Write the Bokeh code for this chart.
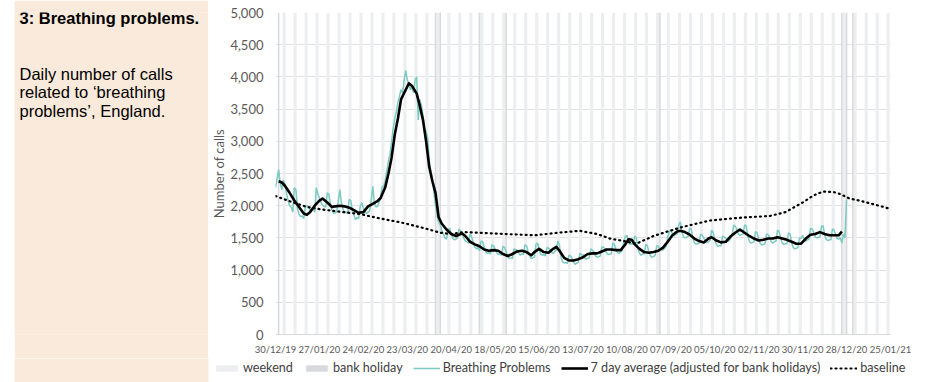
import pandas as pd
from bokeh.plotting import figure
from bokeh.models import (Range1d, FixedTicker, NumeralTickFormatter, Legend,
                          LegendItem, Label, ColumnDataSource, Spacer)
from bokeh.layouts import row, column
from bokeh.embed import file_html
from bokeh.resources import INLINE

# ---------------- data ----------------
START = pd.Timestamp("2019-12-30")

x_tick_labels = ["30/12/19", "27/01/20", "24/02/20", "23/03/20", "20/04/20",
                 "18/05/20", "15/06/20", "13/07/20", "10/08/20", "07/09/20",
                 "05/10/20", "02/11/20", "30/11/20", "28/12/20", "25/01/21"]
y_ticks = [0, 500, 1000, 1500, 2000, 2500, 3000, 3500, 4000, 4500, 5000]

bank_holidays = ["2020-01-01", "2020-04-10", "2020-04-13", "2020-05-08",
                 "2020-05-25", "2020-08-31", "2020-12-25", "2020-12-28",
                 "2021-01-01"]

# daily calls, one value per day from 30/12/2019 (rows = Mon..Sun weeks)
breathing_problems = [
    2280, 2420, 2560, 2350, 2250, 2400, 2330,
    2200, 2080, 2000, 1980, 1900, 2280, 2250,
    1950, 1870, 1830, 1840, 1800, 1980, 2000,
    1990, 1940, 1930, 1960, 1900, 2280, 2180,
    2120, 2050, 2010, 1990, 1980, 2200, 2180,
    2020, 1930, 1880, 1890, 1900, 2060, 2250,
    2050, 1950, 1890, 1900, 1880, 2100, 2080,
    1920, 1850, 1780, 1820, 1800, 1990, 2050,
    1960, 1910, 1880, 1900, 1920, 2080, 2300,
    2050, 1980, 1990, 2050, 2120, 2300, 2300,
    2400, 2550, 2700, 2800, 3000, 3200, 3350,
    3450, 3600, 3700, 3800, 3750, 3950, 4100,
    3950, 3900, 3800, 3850, 3750, 3950, 4000,
    3330, 3650, 3550, 3400, 3200, 3150, 3050,
    2700, 2550, 2400, 2200, 2000, 1850, 1750,
    1700, 1620, 1560, 1500, 1480, 1620, 1650,
    1560, 1500, 1470, 1480, 1500, 1640, 1600,
    1580, 1500, 1450, 1440, 1420, 1560, 1520,
    1430, 1360, 1330, 1350, 1300, 1450, 1440,
    1360, 1290, 1260, 1270, 1250, 1390, 1380,
    1330, 1270, 1240, 1250, 1230, 1370, 1350,
    1290, 1210, 1180, 1190, 1180, 1330, 1320,
    1310, 1260, 1230, 1250, 1240, 1390, 1380,
    1290, 1220, 1180, 1190, 1200, 1400, 1420,
    1320, 1250, 1230, 1240, 1220, 1350, 1340,
    1320, 1280, 1260, 1290, 1310, 1450, 1380,
    1200, 1130, 1110, 1120, 1100, 1230, 1220,
    1180, 1120, 1090, 1110, 1120, 1260, 1240,
    1240, 1190, 1170, 1180, 1190, 1330, 1310,
    1280, 1220, 1200, 1210, 1220, 1360, 1360,
    1330, 1270, 1240, 1250, 1250, 1420, 1400,
    1320, 1270, 1260, 1280, 1300, 1450, 1520,
    1540, 1450, 1400, 1410, 1400, 1530, 1500,
    1330, 1260, 1230, 1250, 1250, 1400, 1380,
    1280, 1220, 1200, 1210, 1230, 1380, 1370,
    1320, 1320, 1310, 1340, 1370, 1520, 1600,
    1620, 1560, 1530, 1560, 1560, 1700, 1750,
    1600, 1520, 1500, 1510, 1520, 1650, 1640,
    1500, 1430, 1400, 1410, 1420, 1560, 1540,
    1500, 1440, 1430, 1440, 1460, 1620, 1580,
    1460, 1400, 1370, 1380, 1380, 1530, 1510,
    1500, 1450, 1450, 1490, 1530, 1700, 1680,
    1640, 1560, 1540, 1550, 1560, 1700, 1690,
    1530, 1450, 1420, 1430, 1440, 1600, 1580,
    1480, 1410, 1390, 1400, 1410, 1560, 1550,
    1510, 1440, 1420, 1440, 1450, 1620, 1600,
    1490, 1420, 1400, 1410, 1410, 1580, 1560,
    1420, 1350, 1330, 1340, 1350, 1500, 1490,
    1540, 1470, 1450, 1470, 1480, 1650, 1640,
    1590, 1520, 1500, 1510, 1510, 1680, 1690,
    1550, 1480, 1460, 1470, 1470, 1640, 1620,
    1560, 1490, 1480, 1500, 1420, 1560, 1500,
    2100,
]

# 7 day average (adjusted for bank holidays): days since 30/12/2019, value
avg_days = [2, 4, 6, 9, 12, 15, 18, 20, 22, 25, 28, 30, 33, 36, 38, 41, 44, 47,
            50, 53, 56, 59, 62, 65, 67, 70, 72, 74, 76, 78, 80, 82, 85, 87, 90,
            92, 94, 96, 98, 100, 102, 104, 106, 109, 112, 115, 117, 119, 121,
            124, 127, 130, 133, 136, 139, 142, 145, 148, 151, 154, 157, 160,
            163, 165, 168, 171, 174, 177, 179, 181, 184, 187, 190, 193, 196,
            199, 202, 205, 208, 211, 214, 217, 220, 223, 225, 227, 229, 232,
            235, 238, 241, 244, 247, 250, 253, 256, 258, 261, 264, 267, 270,
            273, 276, 278, 281, 284, 287, 290, 293, 296, 299, 302, 305, 308,
            311, 314, 317, 320, 323, 326, 329, 332, 335, 338, 341, 344, 347,
            350, 353, 356, 359, 361]
avg_values = [2380, 2360, 2310, 2200, 2080, 1980, 1880, 1860, 1900, 2000, 2080,
              2110, 2050, 1980, 1990, 2000, 1990, 1970, 1930, 1890, 1900, 1990,
              2030, 2070, 2120, 2290, 2500, 2750, 3100, 3350, 3650, 3750, 3900,
              3860, 3740, 3550, 3330, 3000, 2600, 2380, 2200, 1820, 1720, 1630,
              1560, 1530, 1550, 1570, 1530, 1440, 1400, 1370, 1320, 1300, 1310,
              1300, 1250, 1220, 1250, 1290, 1300, 1280, 1230, 1280, 1330, 1280,
              1270, 1330, 1360, 1300, 1190, 1150, 1150, 1170, 1200, 1250, 1260,
              1260, 1290, 1320, 1320, 1310, 1310, 1400, 1480, 1470, 1400, 1330,
              1280, 1270, 1280, 1300, 1350, 1440, 1540, 1600, 1610, 1590, 1550,
              1490, 1450, 1430, 1490, 1510, 1460, 1430, 1440, 1520, 1580, 1630,
              1580, 1530, 1490, 1460, 1470, 1490, 1490, 1510, 1490, 1470, 1440,
              1410, 1410, 1490, 1550, 1560, 1590, 1560, 1540, 1540, 1540, 1600]

# baseline: days since 30/12/2019, value
baseline_days = [0, 10, 20, 30, 40, 54, 65, 80, 95, 105, 112, 120, 130, 147,
                 165, 180, 194, 205, 213, 220, 230, 241, 250, 258, 268, 277,
                 290, 300, 315, 325, 336, 343, 349, 356, 360, 366, 372, 380, 392]
baseline_values = [2150, 2060, 1980, 1940, 1910, 1870, 1810, 1740, 1650, 1580,
                   1560, 1590, 1580, 1560, 1540, 1580, 1610, 1560, 1490, 1460,
                   1410, 1530, 1600, 1660, 1720, 1770, 1800, 1820, 1840, 1900,
                   2050, 2160, 2220, 2210, 2180, 2110, 2080, 2030, 1950]

# ---------------- derived positions (days since start) ----------------
def day_of(ts):
    return (pd.Timestamp(ts) - START).days

tick_days = [day_of(pd.to_datetime(t, format="%d/%m/%y")) for t in x_tick_labels]
x_end = tick_days[-1]
daily_days = list(range(len(breathing_problems)))
saturdays = [day_of(d) for d in pd.date_range(START, START + pd.Timedelta(days=x_end), freq="W-SAT")]
bh_days = [day_of(d) for d in bank_holidays]
y_top = y_ticks[-1]

FONT = "Lato"
GREY_TXT = "#595959"
BEIGE = "#FAEADB"
W_PAGE = 943
PANEL_X0, PANEL_W = 14, 194
LEG_H = 24
H_TOP = 382 - LEG_H
W_CHART = W_PAGE - PANEL_X0 - PANEL_W
B_TOP, B_BOTTOM, B_LEFT, B_RIGHT = 12, 24, 67, 53

WEEKEND_STYLE = dict(fill_color="#EDEEF0", line_color=None)
BH_STYLE = dict(fill_color="#D8D9DD", line_color=None)
BP_STYLE = dict(line_color="#7CCAC2", line_width=1.5)
AVG_STYLE = dict(line_color="black", line_width=2.6, line_join="round")
BASE_STYLE = dict(line_color="black", line_width=2.2, line_dash="1 4", line_cap="round")

# ---------------- left text panel ----------------
left = figure(width=PANEL_W, height=H_TOP, x_range=Range1d(0, PANEL_W),
              y_range=Range1d(H_TOP - B_BOTTOM, B_TOP),
              title=None, x_axis_location=None, y_axis_location=None,
              toolbar_location=None, output_backend="svg", min_border_left=0,
              min_border_right=0, min_border_top=B_TOP, min_border_bottom=B_BOTTOM,
              background_fill_color=BEIGE, border_fill_color=BEIGE,
              outline_line_color=None)
left.grid.visible = False
left.add_layout(Label(x=5, y=17, text="3: Breathing problems.", text_font="Liberation Sans",
                      text_font_style="bold", text_font_size="16.5px", text_color="black",
                      text_baseline="alphabetic"))
for i, line in enumerate(["Daily number of calls", "related to \u2018breathing",
                          "problems\u2019, England."]):
    left.add_layout(Label(x=5, y=73 + 18.5 * i, text=line, text_font="Liberation Sans",
                          text_font_size="16.5px", text_color="black",
                          text_baseline="alphabetic"))

# ---------------- chart ----------------
p = figure(width=W_CHART, height=H_TOP, x_range=Range1d(0, x_end), y_range=Range1d(0, y_top),
           title=None, toolbar_location=None, output_backend="svg",
           min_border_left=B_LEFT, min_border_right=B_RIGHT, min_border_top=B_TOP,
           min_border_bottom=B_BOTTOM, outline_line_color=None)

wk = ColumnDataSource(dict(left=[d - 0.5 for d in saturdays], right=[d + 1.5 for d in saturdays]))
p.quad(left="left", right="right", bottom=0, top=y_top, source=wk, **WEEKEND_STYLE)
bh = ColumnDataSource(dict(left=[d - 0.5 for d in bh_days], right=[d + 0.5 for d in bh_days]))
p.quad(left="left", right="right", bottom=0, top=y_top, source=bh, **BH_STYLE)
p.line(daily_days, breathing_problems, **BP_STYLE)
p.line(avg_days, avg_values, **AVG_STYLE)
p.line(baseline_days, baseline_values, **BASE_STYLE)

p.xaxis.ticker = FixedTicker(ticks=tick_days)
p.xaxis.major_label_overrides = {d: t for d, t in zip(tick_days, x_tick_labels)}
p.yaxis.ticker = FixedTicker(ticks=y_ticks)
p.yaxis.formatter = NumeralTickFormatter(format="0,0")
p.yaxis.axis_label = "Number of calls"
p.yaxis.axis_label_text_font = FONT
p.yaxis.axis_label_text_font_size = "13px"
p.yaxis.axis_label_text_font_style = "normal"
p.yaxis.axis_label_text_color = GREY_TXT
p.yaxis.axis_label_standoff = 0
for ax in (p.xaxis, p.yaxis):
    ax.major_tick_line_color = None
    ax.minor_tick_line_color = None
    ax.major_tick_out = 0
    ax.major_tick_in = 0
    ax.minor_tick_out = 0
    ax.minor_tick_in = 0
    ax.major_label_text_font = FONT
    ax.major_label_text_color = GREY_TXT
p.yaxis.axis_line_color = None
p.xaxis.axis_line_color = "#D9D9D9"
p.yaxis.major_label_text_font_size = "13px"
p.yaxis.major_label_standoff = 12
p.xaxis.major_label_text_font_size = "9.5px"
p.xaxis.major_label_standoff = 9
p.xgrid.visible = False
p.ygrid.ticker = FixedTicker(ticks=y_ticks)
p.ygrid.grid_line_color = "#E2E2E2"
p.ygrid.level = "underlay"

# ---------------- legend strip across the full width ----------------
# its ranges equal its pixel size, so x = page x and y = pixels from the strip bottom
leg = figure(width=W_PAGE, height=LEG_H, x_range=Range1d(0, W_PAGE), y_range=Range1d(0, LEG_H),
             title=None, x_axis_location=None, y_axis_location=None,
             toolbar_location=None, output_backend="svg", min_border=0,
             outline_line_color=None)
leg.grid.visible = False
leg.quad(left=[PANEL_X0], right=[PANEL_X0 + PANEL_W], bottom=[-2], top=[LEG_H + 2],
         fill_color=BEIGE, line_color=None)
off = [-50, -40]  # sample glyphs live outside the strip's visible range
r_wk = leg.quad(left=off[:1], right=off[1:], bottom=off[:1], top=off[1:], **WEEKEND_STYLE)
r_bh = leg.quad(left=off[:1], right=off[1:], bottom=off[:1], top=off[1:], **BH_STYLE)
r_bp = leg.line(off, off, **BP_STYLE)
r_avg = leg.line(off, off, **AVG_STYLE)
r_base = leg.line(off, off, **BASE_STYLE)

legend = Legend(items=[
    LegendItem(label="weekend", renderers=[r_wk]),
    LegendItem(label="bank holiday", renderers=[r_bh]),
    LegendItem(label="Breathing Problems", renderers=[r_bp]),
    LegendItem(label="7 day average (adjusted for bank holidays)", renderers=[r_avg]),
    LegendItem(label="baseline", renderers=[r_base]),
], orientation="horizontal", location=(PANEL_X0 + PANEL_W + 5, 7), glyph_width=27,
    glyph_height=8, label_height=12, label_standoff=3, spacing=10, padding=0, margin=0,
    border_line_color=None, background_fill_alpha=0,
    label_text_font=FONT, label_text_font_size="12.6px", label_text_color="#404040")
leg.add_layout(legend, "center")

layout = column(row(Spacer(width=PANEL_X0, height=H_TOP), left, p), leg)
open("out.html", "w").write(file_html(layout, INLINE))
